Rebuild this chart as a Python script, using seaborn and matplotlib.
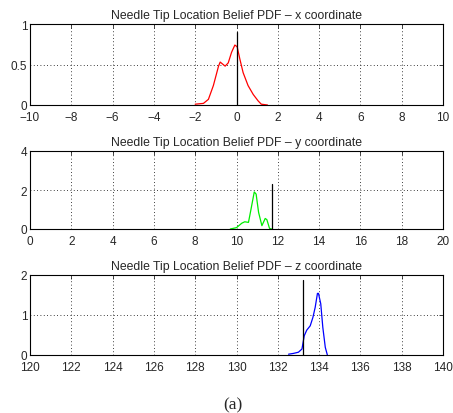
import matplotlib
matplotlib.use("Agg")
import matplotlib.pyplot as plt
import seaborn as sns
import pandas as pd

# belief PDF samples
x_pos = [-2.0, -1.6, -1.36, -1.12, -0.87, -0.79, -0.55, -0.40, -0.24, -0.08, 0.03,
         0.16, 0.32, 0.56, 0.81, 1.05, 1.2, 1.5]
x_pdf = [0.01, 0.02, 0.07, 0.24, 0.48, 0.53, 0.48, 0.52, 0.65, 0.74, 0.72,
         0.57, 0.40, 0.24, 0.13, 0.05, 0.01, 0.0]

y_pos = [9.7, 10.0, 10.26, 10.4, 10.58, 10.7, 10.86, 10.95, 11.07, 11.23, 11.39,
         11.47, 11.6, 11.7]
y_pdf = [0.0, 0.07, 0.3, 0.37, 0.34, 1.0, 1.9, 1.79, 0.85, 0.17, 0.54,
         0.48, 0.03, 0.0]

z_pos = [132.52, 132.76, 133.0, 133.17, 133.28, 133.4, 133.57, 133.7, 133.81,
         133.92, 133.97, 134.08, 134.18, 134.3, 134.4]
z_pdf = [0.02, 0.04, 0.07, 0.15, 0.48, 0.62, 0.73, 0.94, 1.19,
         1.54, 1.54, 1.28, 0.69, 0.19, 0.0]

# true tip location markers (position, drawn height)
x_true, x_true_h = 0.0, 0.9
y_true, y_true_h = 11.71, 2.3
z_true, z_true_h = 133.2, 1.87

titles = ["Needle Tip Location Belief PDF \u2013 x coordinate",
          "Needle Tip Location Belief PDF \u2013 y coordinate",
          "Needle Tip Location Belief PDF \u2013 z coordinate"]

sns.set_style("white")
plt.rcParams["font.family"] = ["Liberation Sans", "DejaVu Sans"]

fig = plt.figure(figsize=(4.53, 4.14), dpi=100)
W, H = 453, 414
boxes = [(25, 106), (152, 230), (276, 356)]
axes = [fig.add_axes([30 / W, (H - b) / H, 413 / W, (b - t) / H]) for t, b in boxes]

panels = [
    (x_pos, x_pdf, "red", x_true, x_true_h, (-10, 10), range(-10, 11, 2), (0, 1), [0, 0.5, 1]),
    (y_pos, y_pdf, "#00ee00", y_true, y_true_h, (0, 20), range(0, 21, 2), (0, 4), [0, 2, 4]),
    (z_pos, z_pdf, "blue", z_true, z_true_h, (120, 140), range(120, 141, 2), (0, 2), [0, 1, 2]),
]

for ax, title, (pos, pdf, col, tv, th, xl, xt, yl, yt) in zip(axes, titles, panels):
    df = pd.DataFrame({"pos": pos, "pdf": pdf})
    sns.lineplot(data=df, x="pos", y="pdf", color=col, lw=0.9, ax=ax)
    ax.plot([tv, tv], [0, th], color="black", lw=0.9)
    ax.set_xlim(*xl)
    ax.set_ylim(*yl)
    ax.set_xticks(list(xt))
    ax.set_yticks(yt)
    ax.set_yticklabels([f"{v:g}" for v in yt])
    ax.set_xticklabels([str(v).replace("-", "\u2212") for v in xt])
    ax.set_xlabel("")
    ax.set_ylabel("")
    ax.set_title(title, fontsize=8.8, pad=4)
    ax.grid(True, color="black", linestyle=(0, (1, 3)), linewidth=0.6)
    ax.tick_params(direction="in", length=3, width=0.6, labelsize=8.5,
                   top=True, right=True)
    ax.tick_params(axis="x", pad=4)
    ax.tick_params(axis="y", pad=2)
    for s in ax.spines.values():
        s.set_linewidth(0.8)
        s.set_color("black")

fig.text(233 / W, 1 - 405 / H, "(a)", ha="center", va="center",
         fontsize=12.5, family=["Liberation Serif", "DejaVu Serif"])

fig.savefig("out.png", dpi=100)
